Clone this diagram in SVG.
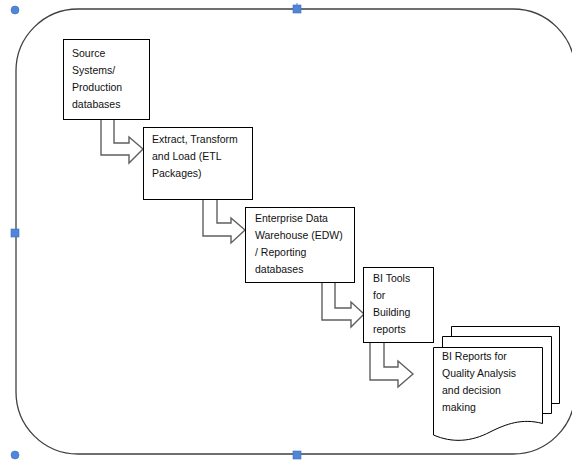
<svg xmlns="http://www.w3.org/2000/svg" width="572" height="460" viewBox="0 0 572 460">
<style>
.box{fill:#fff;stroke:#000;stroke-width:1}
.arr{fill:#fff;stroke:#5f5f5f;stroke-width:1.4;stroke-linejoin:miter}
.t{font-family:"Liberation Sans",Arial,sans-serif;font-size:10.5px;fill:#111}
.h{fill:#4f86d9;stroke:#3a6fc0;stroke-width:0.6}
.frame{fill:none;stroke:#404040;stroke-width:1.3}
</style>
<rect width="572" height="460" fill="#fff"/>
<g id="frame">
<path class="frame" d="M78,9 H513 A62,62 0 0 1 575,71 V392 A62,62 0 0 1 513,454 H78 A62,62 0 0 1 16,392 V71 A62,62 0 0 1 78,9 Z"/>
<line x1="297" y1="3" x2="297" y2="9" stroke="#3a6fc0" stroke-width="0.8"/>
<circle class="h" cx="15" cy="10" r="4"/>
<circle class="h" cx="15" cy="455" r="4"/>
<rect class="h" x="293" y="5" width="8" height="8"/>
<rect class="h" x="11" y="229" width="8" height="8"/>
<rect class="h" x="293" y="451" width="8" height="8"/>
</g>
<g id="connectors">
<path class="arr" d="M101,119 V155 H129 V163 L143,149 L129,137 V143 H114 V119"/>
<path class="arr" d="M203,199 V236 H231 V243 L245,230 L231,218 V223 H217 V199"/>
<path class="arr" d="M322,282 V320 H351 V327 L364,314 L351,302 V308 H335 V282"/>
<path class="arr" d="M370,342 V380 H398 V387 L413,374 L398,361 V367 H384 V342"/>
</g>
<g id="source">
<rect class="box" x="63.5" y="39.5" width="86" height="80"/>
<text class="t" x="72" y="57">Source</text>
<text class="t" x="72" y="74">Systems/</text>
<text class="t" x="72" y="91">Production</text>
<text class="t" x="72" y="108">databases</text>
</g>
<g id="etl">
<rect class="box" x="143.5" y="127.5" width="109" height="72"/>
<text class="t" x="152" y="143">Extract, Transform</text>
<text class="t" x="152" y="160">and Load (ETL</text>
<text class="t" x="152" y="177">Packages)</text>
</g>
<g id="edw">
<rect class="box" x="245.5" y="207.5" width="109" height="75"/>
<text class="t" x="255" y="222">Enterprise Data</text>
<text class="t" x="255" y="239">Warehouse (EDW)</text>
<text class="t" x="255" y="256">/ Reporting</text>
<text class="t" x="255" y="273">databases</text>
</g>
<g id="bitools">
<rect class="box" x="363.5" y="267.5" width="70" height="75"/>
<text class="t" x="373" y="282">BI Tools</text>
<text class="t" x="373" y="299">for</text>
<text class="t" x="373" y="316">Building</text>
<text class="t" x="373" y="333">reports</text>
</g>
<g id="bireports">
<path class="box" d="M451.5,326.5 H559.5 V403.5 H551.5"/>
<path class="box" d="M442.5,336.5 H551.5 V413.5 H542.5"/>
<path class="box" d="M451.5,336.5 V326.5" />
<path class="box" d="M442.5,347.5 V336.5" />
<path class="box" d="M433.5,347.5 H542.5 V423.5 C522,418 506,424 490,432 C471,442 452,443 433.5,435 Z"/>
<text class="t" x="442" y="360">BI Reports for</text>
<text class="t" x="442" y="377">Quality Analysis</text>
<text class="t" x="442" y="394">and decision</text>
<text class="t" x="442" y="411">making</text>
</g>
</svg>
